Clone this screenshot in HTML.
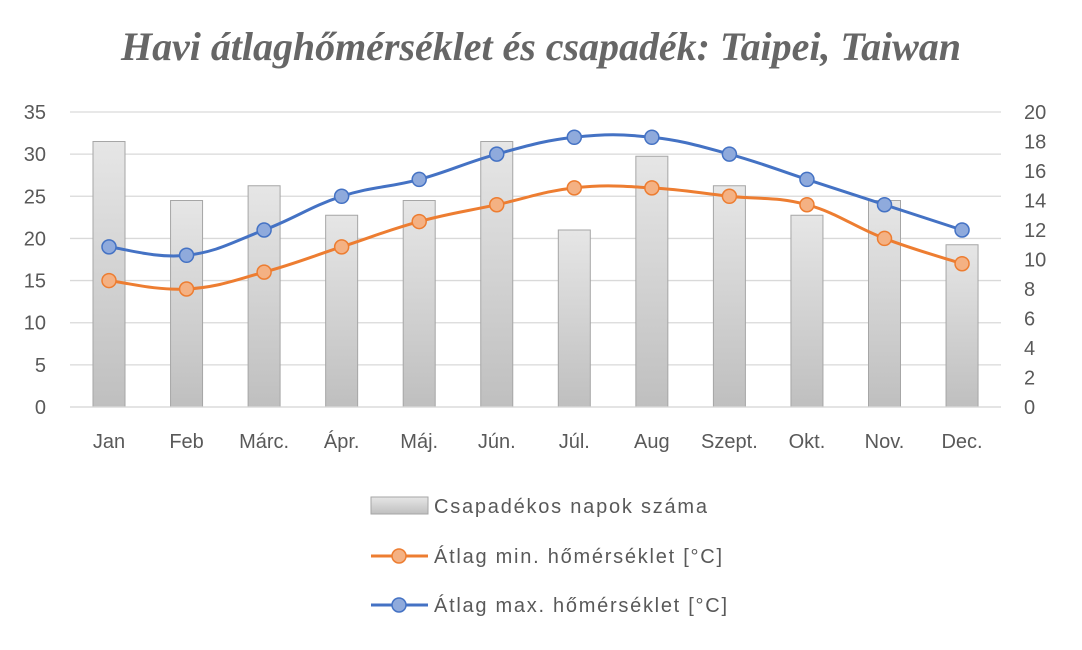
<!DOCTYPE html>
<html><head><meta charset="utf-8"><style>
body{margin:0;background:#fff;width:1082px;height:645px;overflow:hidden}
svg text{font-family:"Liberation Sans",sans-serif;fill:#595959}
</style></head><body>
<svg id="s" width="1082" height="645" xmlns="http://www.w3.org/2000/svg">
<defs>
<linearGradient id="g" x1="0" y1="0" x2="0" y2="1">
<stop offset="0" stop-color="#e6e6e6"/><stop offset="1" stop-color="#bfbfbf"/></linearGradient>
</defs>
<text x="541" y="60" text-anchor="middle" textLength="840" style="font-family:'Liberation Serif',serif;font-style:italic;font-weight:bold;font-size:40px;fill:#666">Havi átlaghőmérséklet és csapadék: Taipei, Taiwan</text>
</svg>
<script>
(function(){
var s=document.getElementById('s'),h='';
var y0=407,yt=112,L=70,R=1001;
function yl(v){return y0-v*(y0-yt)/35}
function yr(v){return y0-v*(y0-yt)/20}
for(var i=0;i<=7;i++){var y=yl(i*5);h+='<line x1="'+L+'" x2="'+R+'" y1="'+y+'" y2="'+y+'" stroke="#d9d9d9" stroke-width="1.3"/>';
h+='<text x="46" y="'+(y+7)+'" text-anchor="end" font-size="20">'+(i*5)+'</text>';}
for(var i=0;i<=10;i++){var y=yr(i*2);h+='<text x="1024" y="'+(y+7)+'" font-size="20">'+(i*2)+'</text>';}
var cats=['Jan','Feb','Márc.','Ápr.','Máj.','Jún.','Júl.','Aug','Szept.','Okt.','Nov.','Dec.'];
var rain=[18,14,15,13,14,18,12,17,15,13,14,11];
var mn=[15,14,16,19,22,24,26,26,25,24,20,17];
var mx=[19,18,21,25,27,30,32,32,30,27,24,21];
function cx(i){return 109+i*77.55}
for(var i=0;i<12;i++){var x=cx(i);h+='<rect x="'+(x-16)+'" y="'+yr(rain[i])+'" width="32" height="'+(y0-yr(rain[i]))+'" fill="url(#g)" stroke="#a6a6a6" stroke-width="1"/>';
h+='<text x="'+x+'" y="448" text-anchor="middle" font-size="20">'+cats[i]+'</text>';}
function path(d){var p=d.map(function(v,i){return [cx(i),yl(v)]});var t=0.2,str='M'+p[0][0]+','+p[0][1];
for(var i=0;i<p.length-1;i++){var a=p[Math.max(i-1,0)],b=p[i],c=p[i+1],e=p[Math.min(i+2,p.length-1)];
str+=' C'+(b[0]+(c[0]-a[0])*t)+','+(b[1]+(c[1]-a[1])*t)+' '+(c[0]-(e[0]-b[0])*t)+','+(c[1]-(e[1]-b[1])*t)+' '+c[0]+','+c[1];}return str}
function series(d,col,fill){h+='<path d="'+path(d)+'" fill="none" stroke="'+col+'" stroke-width="3"/>';
d.forEach(function(v,i){h+='<circle cx="'+cx(i)+'" cy="'+yl(v)+'" r="7" fill="'+fill+'" stroke="'+col+'" stroke-width="1.5"/>'});}
series(mn,'#ed7d31','#f4b183');series(mx,'#4472c4','#8faadc');
h+='<line x1="'+L+'" x2="'+R+'" y1="'+y0+'" y2="'+y0+'" stroke="#d9d9d9" stroke-width="1.3"/>';
h+='<rect x="371" y="497" width="57" height="17" fill="url(#g)" stroke="#a6a6a6"/><text x="434" y="513" font-size="20" textLength="273">Csapadékos  napok száma</text>';
h+='<line x1="371" x2="428" y1="556" y2="556" stroke="#ed7d31" stroke-width="3"/><circle cx="399" cy="556" r="7" fill="#f4b183" stroke="#ed7d31" stroke-width="1.5"/><text x="434" y="563" font-size="20" textLength="288">Átlag min. hőmérséklet [°C]</text>';
h+='<line x1="371" x2="428" y1="605" y2="605" stroke="#4472c4" stroke-width="3"/><circle cx="399" cy="605" r="7" fill="#8faadc" stroke="#4472c4" stroke-width="1.5"/><text x="434" y="612" font-size="20" textLength="293">Átlag max. hőmérséklet [°C]</text>';
s.insertAdjacentHTML('beforeend',h);
})();
</script>
</body></html>
